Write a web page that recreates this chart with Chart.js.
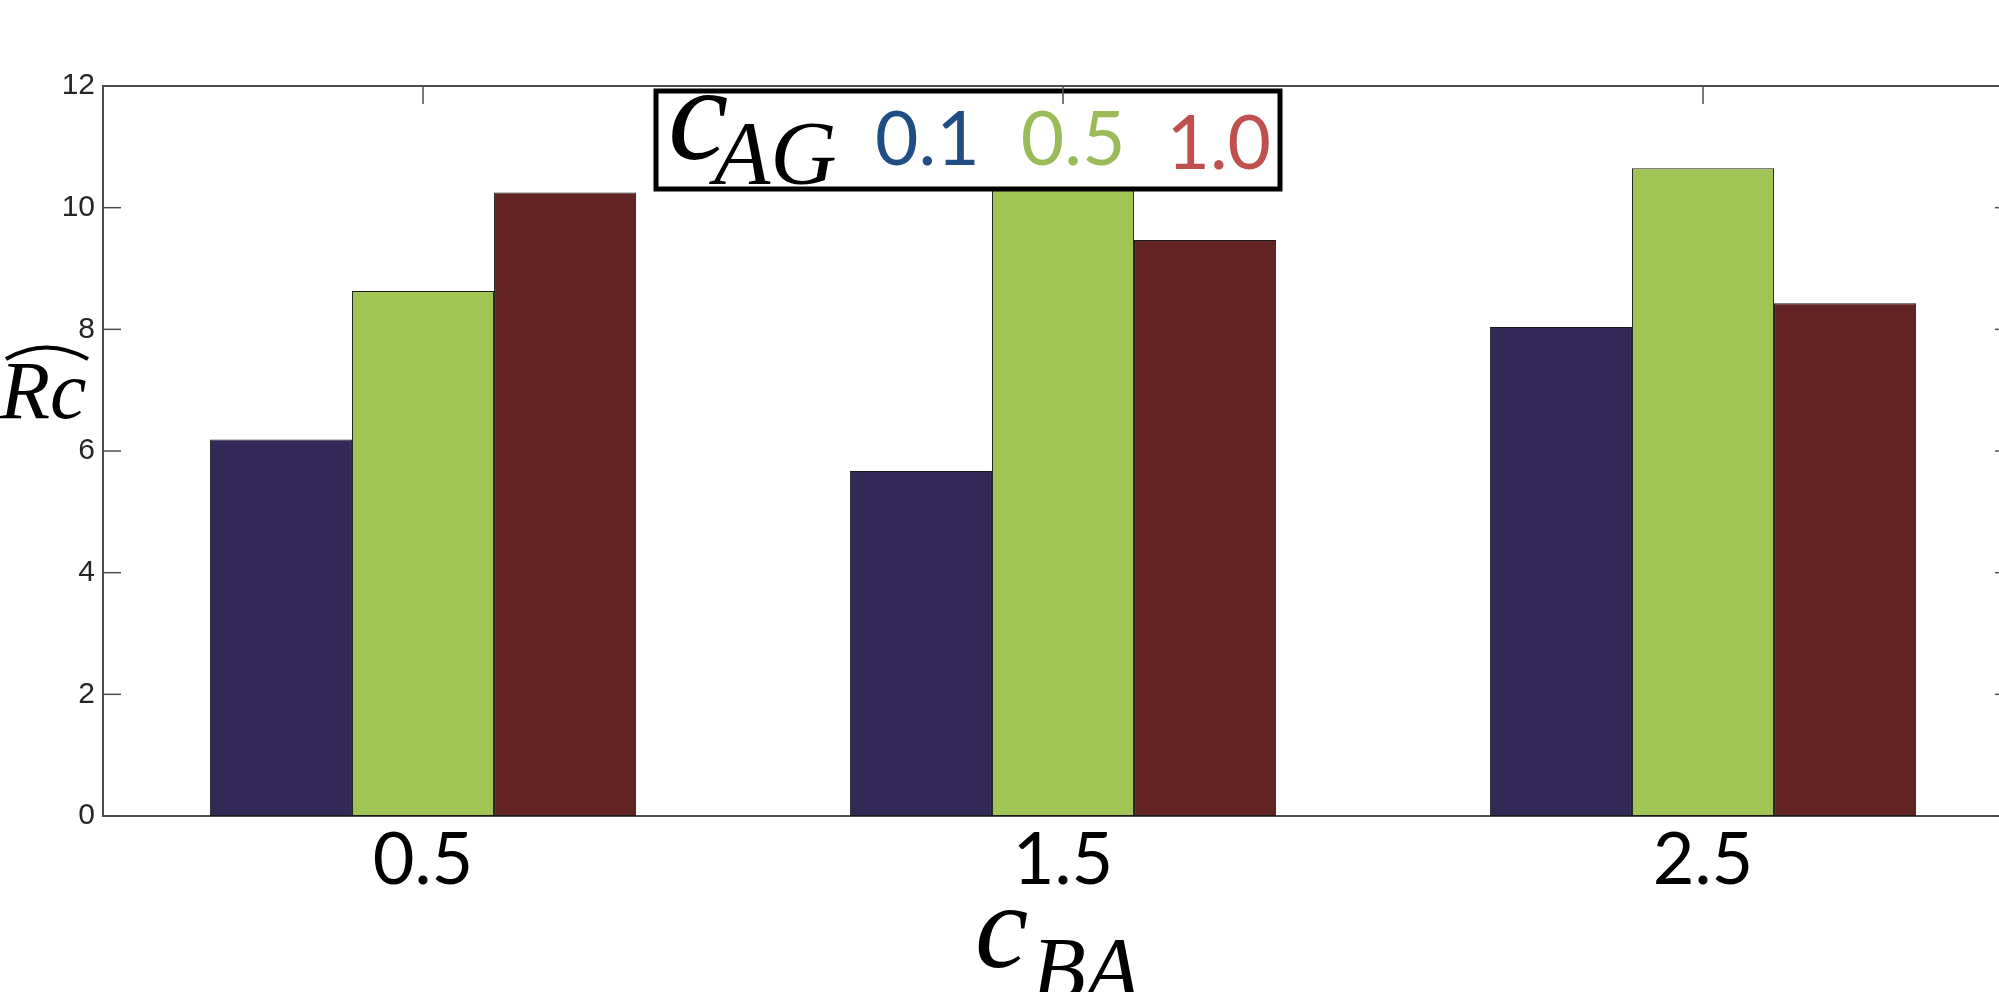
<!DOCTYPE html>
<html>
<head>
<meta charset="utf-8">
<title>Rc vs c_BA</title>
<script src="https://cdn.jsdelivr.net/npm/chart.js@4.4.1/dist/chart.umd.min.js"></script>
<style>
  html, body { margin: 0; padding: 0; background: #fff; overflow: hidden; }
  #wrap { width: 2040px; height: 992px; }
</style>
</head>
<body>
<div id="wrap"><canvas id="rcChart" width="2040" height="992"></canvas></div>
<script>
// ---- data ----
const categories = ['0.5', '1.5', '2.5'];        // c_BA
const cagLevels  = ['0.1', '0.5', '1.0'];        // c_AG
const rcCag01    = [6.19, 5.67, 8.04];
const rcCag05    = [8.63, 11.0, 10.65];
const rcCag10    = [10.25, 9.47, 8.43];
const yMin = 0, yMax = 12, yStep = 2;

const barColors    = ['#332957', '#a0c554', '#632523'];
const legendColors = ['#1f4e85', '#9bbb59', '#c0504d'];
const axisColor = '#4d4d4d';
const TICK = 18;

const mathFont = '"Liberation Serif", "DejaVu Serif", serif';

// frame, inner ticks, legend and titles
const figureDecor = {
  id: 'figureDecor',
  beforeDatasetsDraw(chart) {
    const { ctx, chartArea: a, scales: { x } } = chart;
    ctx.save();
    ctx.strokeStyle = axisColor;
    ctx.lineWidth = 1.5;
    categories.forEach((c, i) => {
      const px = x.getPixelForValue(i);
      ctx.beginPath(); ctx.moveTo(px, a.bottom); ctx.lineTo(px, a.bottom - TICK); ctx.stroke();
    });
    ctx.restore();
  },
  afterDatasetsDraw(chart) {
    const { ctx, chartArea: a } = chart;
    // legend box
    const bx = a.left + 553, by = a.top + 5, bw = 624, bh = 98;
    ctx.save();
    ctx.fillStyle = '#fff';
    ctx.fillRect(bx, by, bw, bh);
    ctx.lineWidth = 5;
    ctx.strokeStyle = '#000';
    ctx.strokeRect(bx, by, bw, bh);

    ctx.fillStyle = '#000';
    ctx.textBaseline = 'alphabetic';
    ctx.textAlign = 'left';
    ctx.font = 'italic 136px ' + mathFont;
    ctx.fillText('c', bx + 12, by + 68);
    ctx.font = 'italic 92px ' + mathFont;
    ctx.fillText('AG', bx + 58, by + 93);

    ctx.font = '75px Lato';
    let tx = bx + 219;
    cagLevels.forEach((lab, i) => {
      ctx.fillStyle = legendColors[i];
      ctx.fillText(lab, tx, by + 74 + (i === 2 ? 4 : 0));
      tx += ctx.measureText(lab).width + 41;
    });
    ctx.restore();
  },
  afterDraw(chart) {
    const { ctx, chartArea: a, scales: { x, y } } = chart;
    ctx.save();
    ctx.strokeStyle = axisColor;
    ctx.lineWidth = 2;
    ctx.beginPath();
    ctx.moveTo(a.left, a.top); ctx.lineTo(a.right, a.top); ctx.lineTo(a.right, a.bottom);
    ctx.stroke();

    ctx.lineWidth = 1.5;
    for (let v = yMin; v <= yMax; v += yStep) {
      const py = y.getPixelForValue(v);
      ctx.beginPath(); ctx.moveTo(a.left, py); ctx.lineTo(a.left + TICK, py); ctx.stroke();
      ctx.beginPath(); ctx.moveTo(a.right, py); ctx.lineTo(a.right - TICK - 10, py); ctx.stroke();
    }
    categories.forEach((c, i) => {
      const px = x.getPixelForValue(i);
      ctx.beginPath(); ctx.moveTo(px, a.top); ctx.lineTo(px, a.top + TICK); ctx.stroke();
    });

    // y title: Rc with wide hat
    ctx.fillStyle = '#000';
    ctx.font = 'italic 82px ' + mathFont;
    ctx.textBaseline = 'alphabetic';
    ctx.fillText('Rc', 0, 418);
    ctx.strokeStyle = '#000';
    ctx.lineWidth = 4;
    ctx.beginPath();
    ctx.moveTo(6, 359);
    ctx.quadraticCurveTo(46, 336, 88, 359);
    ctx.stroke();

    // x title: c_BA
    ctx.font = 'italic 120px ' + mathFont;
    ctx.fillText('c', 975, 967);
    ctx.font = 'italic 88px ' + mathFont;
    ctx.fillText('BA', 1032, 998);
    ctx.restore();
  }
};

new Chart(document.getElementById('rcChart'), {
  type: 'bar',
  data: {
    labels: categories,
    datasets: [rcCag01, rcCag05, rcCag10].map((vals, i) => ({
      label: 'c_AG = ' + cagLevels[i],
      data: vals,
      backgroundColor: barColors[i],
      borderColor: '#1a1a1a',
      borderWidth: 1,
      borderSkipped: false,
      categoryPercentage: 0.666,
      barPercentage: 1.0
    }))
  },
  options: {
    responsive: false,
    animation: false,
    devicePixelRatio: 1,
    layout: { padding: { top: 86, right: 17, left: 0, bottom: 0 } },
    plugins: { legend: { display: false }, tooltip: { enabled: false } },
    scales: {
      x: {
        grid: { display: false, drawTicks: false },
        border: { display: true, color: axisColor, width: 2 },
        ticks: { color: '#000', font: { family: 'Lato', size: 72 }, padding: 2 },
        afterFit(scale) { scale.height = 176; }
      },
      y: {
        min: yMin, max: yMax,
        grid: { display: false, drawTicks: false },
        border: { display: true, color: axisColor, width: 2 },
        ticks: { stepSize: yStep, color: '#262626', font: { family: '"Liberation Sans", Arial', size: 30 }, padding: 8 },
        afterFit(scale) { scale.width = 103; }
      }
    }
  },
  plugins: [figureDecor]
});
</script>
</body>
</html>
